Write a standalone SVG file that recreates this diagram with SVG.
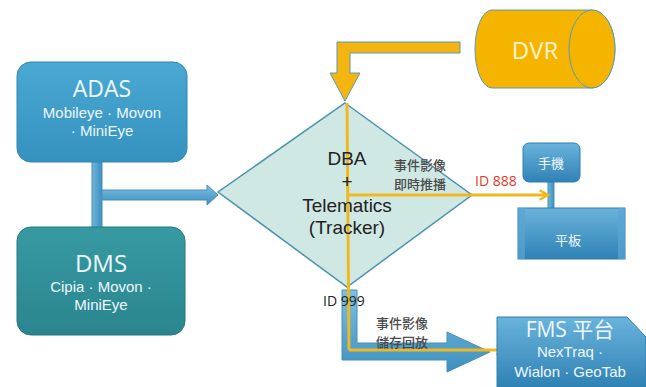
<svg xmlns="http://www.w3.org/2000/svg" width="646" height="387" viewBox="0 0 646 387">
<defs>
<linearGradient id="gAdas" x1="0" y1="0" x2="0" y2="1"><stop offset="0" stop-color="#4aa8d2"/><stop offset="1" stop-color="#3592bf"/></linearGradient>
<linearGradient id="gDms" x1="0" y1="0" x2="0" y2="1"><stop offset="0" stop-color="#379aa3"/><stop offset="1" stop-color="#2a858e"/></linearGradient>
<linearGradient id="gBlue" x1="0" y1="0" x2="0" y2="1"><stop offset="0" stop-color="#7cc0e4"/><stop offset="1" stop-color="#3d8fc0"/></linearGradient>
<linearGradient id="gBlueV" x1="0" y1="0" x2="1" y2="0"><stop offset="0" stop-color="#6fb6de"/><stop offset="1" stop-color="#3d8fc0"/></linearGradient>
<linearGradient id="gBox" x1="0" y1="0" x2="0" y2="1"><stop offset="0" stop-color="#6ab3dc"/><stop offset="1" stop-color="#2f82b5"/></linearGradient>
<marker id="ay" viewBox="0 0 10 10" refX="8" refY="5" markerWidth="4" markerHeight="4" orient="auto"><path d="M1,1 L8,5 L1,9" fill="none" stroke="#f0b820" stroke-width="2"/></marker>
<style>
.w{fill:#eef8ff;font-family:"Open Sans","Noto Sans","Noto Sans CJK TC",sans-serif;text-anchor:middle}
.s{fill:#eef8ff;font-family:"Liberation Sans",Arial,sans-serif;font-size:15px;text-anchor:middle}
.k{fill:#222;font-family:"Liberation Sans",Arial,sans-serif;font-size:19px;text-anchor:middle}
.cn{fill:#4a4a4a;font-family:"Noto Sans CJK TC",sans-serif;font-size:13px;font-weight:500;text-anchor:middle}
.zh{fill:#eef8ff;font-family:"Noto Sans CJK TC",sans-serif;font-size:13px;text-anchor:middle}
.yl{fill:none;stroke:#f0b820;stroke-width:3}
.bs{stroke:#4a8fb5;stroke-width:1}
</style>
</defs>

<g id="connectors">
<rect x="92" y="160" width="10" height="68" fill="url(#gBlueV)" class="bs"/>
<path d="M102,190 L207,190 L207,185 L218,195 L207,205 L207,200 L102,200 Z" fill="url(#gBlue)" class="bs"/>
<path d="M460,42 L337,42 L337,73 L330,73 L345,101 L360,73 L350,73 L350,53 L460,53 Z" fill="#f5b511" stroke="#5a9ab5" stroke-width="1"/>
<path d="M342,290 L357,290 L357,343 L447,343 L447,332 L490,352 L447,372 L447,360 L342,360 Z" fill="url(#gBlue)" class="bs"/>
<rect x="548" y="182" width="6" height="27" fill="url(#gBlueV)" class="bs"/>
</g>

<g id="adas">
<rect x="17" y="62" width="170" height="100" rx="14" fill="url(#gAdas)" stroke="#2f87b3" stroke-width="1"/>
<text class="w" x="102" y="97" font-size="23">ADAS</text>
<text class="s" x="102" y="118">Mobileye · Movon</text>
<text class="s" x="102" y="136">· MiniEye</text>
</g>

<g id="dms">
<rect x="17" y="227" width="168" height="108" rx="14" fill="url(#gDms)" stroke="#237880" stroke-width="1"/>
<text class="w" x="101" y="272" font-size="24">DMS</text>
<text class="s" x="101" y="292">Cipia · Movon ·</text>
<text class="s" x="101" y="310">MiniEye</text>
</g>

<g id="dvr">
<path d="M492,10 L592,10 A23,39 0 0 1 592,88 L492,88 A17,39 0 0 1 492,10 Z" fill="#f5b400" stroke="#5a9ab5" stroke-width="1"/>
<ellipse cx="592" cy="49" rx="23" ry="39" fill="#f5b400" stroke="#5a9ab5" stroke-width="1"/>
<text class="w" x="535" y="59" font-size="24" style="fill:#fff3cc">DVR</text>
</g>

<g id="tracker">
<path d="M345,103 L472,195 L347,287 L218,192 Z" fill="#cfe8e4" stroke="#4a93ad" stroke-width="1.5"/>
</g>

<g id="yellow-lines">
<line class="yl" x1="347" y1="103" x2="349" y2="350" stroke-width="2"/>
<line class="yl" x1="347" y1="195" x2="548" y2="195" marker-end="url(#ay)"/>
<path class="yl" d="M349,350 L505,350" marker-end="url(#ay)" stroke-width="2"/>
</g>

<g id="tracker-text">
<text class="k" x="347" y="165">DBA</text>
<text class="k" x="347" y="188">+</text>
<text class="k" x="347" y="212">Telematics</text>
<text class="k" x="347" y="234">(Tracker)</text>
<text class="cn" x="420" y="170">事件影像</text>
<text class="cn" x="420" y="189">即時推播</text>
<text x="475" y="186" font-family="Open Sans, sans-serif" font-size="14" fill="#e03a2e">ID 888</text>
<text x="323" y="306" font-family="Open Sans, sans-serif" font-size="14" fill="#222">ID 999</text>
<text class="cn" x="402" y="328">事件影像</text>
<text class="cn" x="402" y="347">儲存回放</text>
</g>

<g id="phone">
<rect x="523" y="143" width="57" height="39" rx="6" fill="url(#gBox)" stroke="#2f7fae" stroke-width="1"/>
<text class="zh" x="551" y="168">手機</text>
</g>

<g id="pad">
<rect x="518" y="208" width="107" height="51" fill="url(#gBox)" stroke="#2f7fae" stroke-width="1"/>
<rect x="518" y="208" width="7" height="51" fill="#5aa5d3" opacity="0.7"/>
<rect x="618" y="208" width="7" height="51" fill="#5aa5d3" opacity="0.7"/>
<text class="zh" x="568" y="245">平板</text>
</g>

<g id="fms">
<path d="M497,317 L627,317 L646,337 L646,387 L497,387 Z" fill="url(#gBox)" stroke="#2f7fae" stroke-width="1"/>
<text class="w" x="570" y="337" font-size="21" style="font-family:'Open Sans','Noto Sans CJK TC',sans-serif">FMS 平台</text>
<text class="s" x="570" y="357">NexTraq ·</text>
<text class="s" x="570" y="377">Wialon · GeoTab</text>
</g>
</svg>
